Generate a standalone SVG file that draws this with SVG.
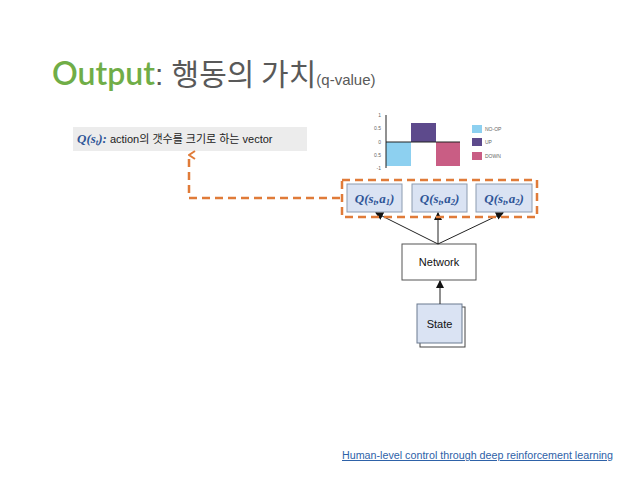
<svg xmlns="http://www.w3.org/2000/svg" width="638" height="479" viewBox="0 0 638 479">
<defs>
<style>
.qbox{fill:#dae3f3;stroke:#8c9bb0;stroke-width:1}
.qt{font-family:"Liberation Serif","DejaVu Serif",serif;font-weight:bold;font-style:italic;fill:#2f5597;font-size:13px}
.sub{font-size:8.5px}
.box{fill:#ffffff;stroke:#555555;stroke-width:1}
.lbl{font-family:"Liberation Sans",Arial,sans-serif;font-size:11px;fill:#111111}
.arr{stroke:#222222;stroke-width:1;fill:none}
.dash{stroke:#e07b39;stroke-width:2.5;stroke-dasharray:8,5;fill:none}
.tick{font-family:"Liberation Sans",Arial,sans-serif;font-size:5px;fill:#666666}
</style>
<marker id="ah" markerWidth="8" markerHeight="8" refX="7" refY="4" orient="auto" markerUnits="userSpaceOnUse">
<path d="M0,0 L8,4 L0,8 Z" fill="#111111"/>
</marker>
<marker id="oh" markerWidth="10" markerHeight="10" refX="5" refY="1" orient="auto-start-reverse" markerUnits="userSpaceOnUse">
<path d="M1,7 L5,1 L9,7" fill="none" stroke="#e07b39" stroke-width="2"/>
</marker>
</defs>
<rect width="638" height="479" fill="#ffffff"/>

<g id="title">
<text x="52" y="85" font-family="'Liberation Sans','Noto Sans CJK KR', sans-serif" font-size="30" fill="#595959"><tspan font-family="Lato, 'Liberation Sans', sans-serif" font-weight="600" font-size="32" fill="#70ad47">Output</tspan>: <tspan font-family="'Noto Sans CJK KR', sans-serif">행동의 가치</tspan><tspan font-size="15">(q-value)</tspan></text>
</g>

<g id="desc">
<rect x="73" y="127" width="234" height="24" fill="#ececec"/>
<text x="77" y="143" font-family="'Liberation Sans','Noto Sans CJK KR',sans-serif" font-size="11" fill="#222222"><tspan class="qt">Q(s</tspan><tspan class="qt sub" dy="2">t</tspan><tspan class="qt" dy="-2">):</tspan><tspan> action의 갯수를 크기로 하는 vector</tspan></text>
</g>

<g id="chart">
<rect x="386" y="142" width="25" height="24" fill="#8dd0f0"/>
<rect x="411" y="123" width="25" height="19" fill="#5d4a8c"/>
<rect x="436" y="142" width="24" height="24" fill="#c95d84"/>
<line x1="386" y1="115" x2="386" y2="168" stroke="#222222" stroke-width="1"/>
<line x1="386" y1="142" x2="460" y2="142" stroke="#222222" stroke-width="1"/>
<text class="tick" x="381" y="117" text-anchor="end">1</text>
<text class="tick" x="381" y="130" text-anchor="end">0.5</text>
<text class="tick" x="381" y="144" text-anchor="end">0</text>
<text class="tick" x="381" y="157" text-anchor="end">0.5</text>
<text class="tick" x="381" y="170" text-anchor="end">-1</text>
<rect x="472" y="125" width="10" height="8" fill="#8dd0f0"/>
<rect x="472" y="138" width="10" height="8" fill="#5d4a8c"/>
<rect x="472" y="152" width="10" height="8" fill="#c95d84"/>
<text class="tick" x="485" y="131">NO-OP</text>
<text class="tick" x="485" y="144">UP</text>
<text class="tick" x="485" y="158">DOWN</text>
</g>

<g id="q1">
<rect class="qbox" x="347" y="184" width="55" height="28"/>
<text class="qt" x="374.5" y="203" text-anchor="middle">Q(s<tspan class="sub" dy="2">t</tspan><tspan dy="-2">,a</tspan><tspan class="sub" dy="2">1</tspan><tspan dy="-2">)</tspan></text>
</g>
<g id="q2">
<rect class="qbox" x="412" y="184" width="55" height="28"/>
<text class="qt" x="439.5" y="203" text-anchor="middle">Q(s<tspan class="sub" dy="2">t</tspan><tspan dy="-2">,a</tspan><tspan class="sub" dy="2">2</tspan><tspan dy="-2">)</tspan></text>
</g>
<g id="q3">
<rect class="qbox" x="476" y="184" width="56" height="28"/>
<text class="qt" x="504" y="203" text-anchor="middle">Q(s<tspan class="sub" dy="2">t</tspan><tspan dy="-2">,a</tspan><tspan class="sub" dy="2">2</tspan><tspan dy="-2">)</tspan></text>
</g>

<g id="network">
<rect class="box" x="402" y="244" width="74" height="36"/>
<text class="lbl" x="439" y="266" text-anchor="middle">Network</text>
</g>

<g id="state">
<rect x="420" y="307" width="45" height="40" fill="#ffffff" stroke="#444444" stroke-width="1"/>
<rect x="417" y="304" width="45" height="39" fill="#dae3f3" stroke="#6b7a90" stroke-width="1"/>
<text class="lbl" x="439.5" y="328" text-anchor="middle">State</text>
</g>

<g id="connectors">
<line class="arr" x1="438" y1="244" x2="376" y2="213" marker-end="url(#ah)"/>
<line class="arr" x1="438" y1="244" x2="438" y2="213" marker-end="url(#ah)" stroke="#777777"/>
<line class="arr" x1="438" y1="244" x2="503" y2="213" marker-end="url(#ah)"/>
<line class="arr" x1="440" y1="304" x2="440" y2="281" marker-end="url(#ah)" stroke="#777777"/>
<rect class="dash" x="342" y="180" width="195" height="37"/>
<polyline class="dash" points="340,198 189,198 189,155" marker-end="url(#oh)"/>
</g>

<g id="link">
<text x="342" y="459" font-family="'Liberation Sans',Arial,sans-serif" font-size="10" fill="#2e62a8" text-decoration="underline" textLength="271" lengthAdjust="spacingAndGlyphs">Human-level control through deep reinforcement learning</text>
</g>
</svg>
